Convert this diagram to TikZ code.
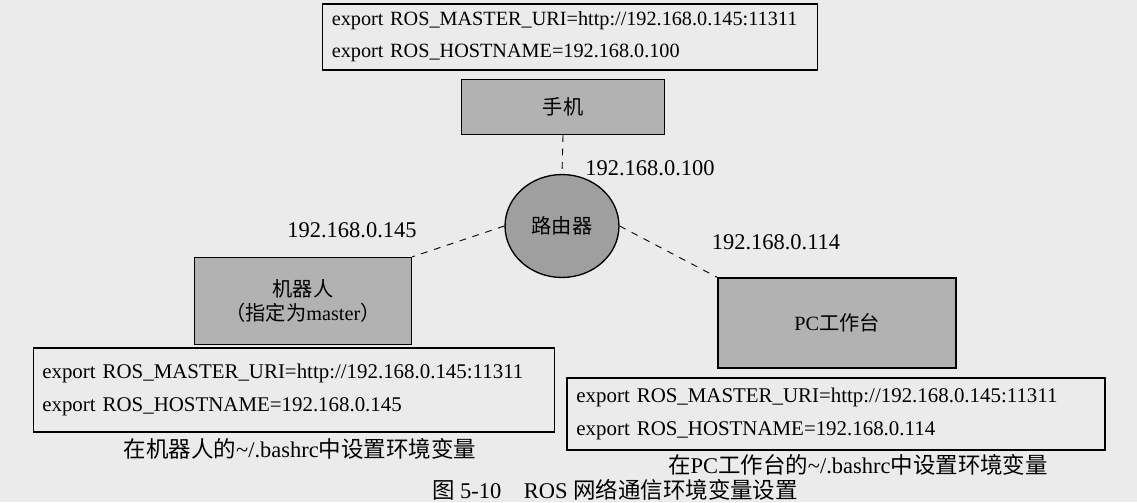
\documentclass[tikz,border=0pt]{standalone}
\usepackage{fontspec}
\setmainfont{Liberation Serif}
\newfontfamily\cjk{Noto Sans CJK SC}
\usetikzlibrary{positioning}
\usetikzlibrary{shapes.geometric}

\tikzset{
	envbox/.style={draw, semithick, align=left, inner xsep=4pt, font=\fontsize{9.3}{14.5}\selectfont},
	hostbox/.style={draw, semithick, fill=gray!60, align=center, font=\cjk\fontsize{9}{11}\selectfont},
	link/.style={dashed, thin},
	iplabel/.style={font=\fontsize{10}{12}\selectfont},
	note/.style={font=\fontsize{10}{12}\selectfont},
}

\begin{document}
\begin{tikzpicture}[x=0.445pt,y=-0.445pt]
	\useasboundingbox[fill=white!92!black] (0,0) rectangle (1137,502);
	
	% configuration boxes
	\node[envbox, font=\fontsize{9}{14.2}\selectfont, minimum width=218pt, minimum height=29.4pt, text width=212pt] (phonecfg) at (570,37) {export ROS\_MASTER\_URI=http://192.168.0.145:11311\\export ROS\_HOSTNAME=192.168.0.100};
	\node[envbox, minimum width=232pt, minimum height=37.4pt, text width=224pt] (robotcfg) at (294,390) {export ROS\_MASTER\_URI=http://192.168.0.145:11311\\export ROS\_HOSTNAME=192.168.0.145};
	\node[envbox, minimum width=239.4pt, minimum height=32pt, text width=231pt] (pccfg) at (836,414) {export ROS\_MASTER\_URI=http://192.168.0.145:11311\\export ROS\_HOSTNAME=192.168.0.114};
	
	% hosts
	\node[hostbox, minimum width=90.3pt, minimum height=24.5pt] (phone) at (563,107) {手机};
	\node[hostbox, ellipse, fill=gray!75, minimum width=50.7pt, minimum height=45.8pt] (router) at (562,226) {路由器};
	\node[hostbox, minimum width=96.6pt, minimum height=38.7pt] (robot) at (303,301) {机器人\\（指定为{\rmfamily master}）};
	\node[hostbox, minimum width=105.9pt, minimum height=40pt] (pc) at (837,323) {{\rmfamily PC}工作台};
	
	\draw[link] (phone.south) -- (router.north);
	\draw[link] (router.west) -- (robot.north east);
	\draw[link] (router.east) -- (pc.north west);
	
	\node[iplabel] (phoneip) at (650,168) {192.168.0.100};
	\node[iplabel] (robotip) at (352,230) {192.168.0.145};
	\node[iplabel] (pcip) at (776,242) {192.168.0.114};
	
	% captions
	\node[note] (robotnote) at (300,449) {{\cjk 在机器人的}\textasciitilde/.bashrc{\cjk 中设置环境变量}};
	\node[note] (pcnote) at (858,465) {{\cjk 在}PC{\cjk 工作台的}\textasciitilde/.bashrc{\cjk 中设置环境变量}};
	\node[note] (figcap) at (615,490) {{\cjk 图} 5-10\quad ROS {\cjk 网络通信环境变量设置}};
\end{tikzpicture}
\end{document}
